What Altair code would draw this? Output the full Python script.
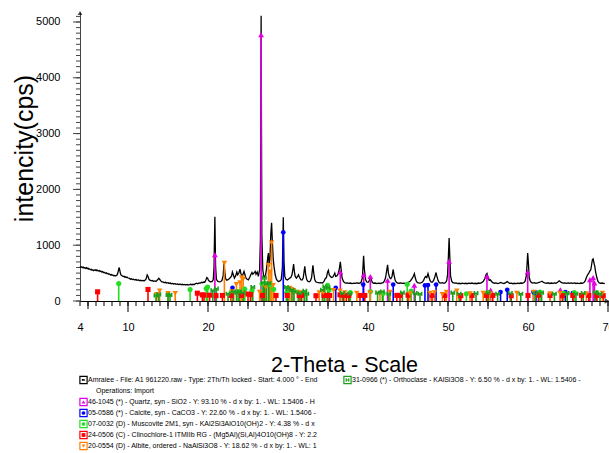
import altair as alt
import pandas as pd

# ---------------- data ----------------
x_ticks = list(range(4, 71))
x_labels = [4, 10, 20, 30, 40, 50, 60, 70]
y_ticks = list(range(0, 5101, 100))
y_labels = [0, 1000, 2000, 3000, 4000, 5000]

scan = [(4.0,620),(4.1,605),(4.2,612),(4.3,598),(4.4,606),(4.5,590),(4.6,600),(4.7,585),(4.8,596),(4.9,580),
(5.0,588),(5.1,570),(5.2,575),(5.3,560),(5.4,568),(5.5,552),(5.6,560),(5.7,545),(5.8,556),(5.9,548),(6.0,560),
(6.1,545),(6.2,552),(6.3,538),(6.4,546),(6.5,530),(6.6,536),(6.7,520),(6.8,526),(6.9,510),(7.0,515),(7.2,498),
(7.3,505),(7.4,488),(7.5,494),(7.6,478),(7.7,484),(7.8,468),(7.9,474),(8.0,460),(8.1,466),(8.2,452),(8.3,458),
(8.4,448),(8.5,455),(8.6,462),(8.7,490),(8.8,545),(8.88,600),(8.96,560),(9.05,495),(9.15,462),(9.3,448),
(9.4,438),(9.5,444),(9.6,428),(9.7,434),(9.8,420),(9.9,426),(10.0,412),(10.2,405),(10.3,392),(10.4,398),
(10.6,385),(10.7,390),(10.8,378),(11.0,384),(11.1,372),(11.3,378),(11.4,366),(11.6,372),(11.7,362),(11.9,368),
(12.0,360),(12.1,372),(12.2,380),(12.3,410),(12.4,468),(12.5,445),(12.6,395),(12.7,378),(12.8,368),(13.0,360),
(13.1,366),(13.2,352),(13.4,360),(13.5,350),(13.6,365),(13.7,380),(13.85,408),(13.95,390),(14.1,362),(14.2,345),
(14.4,338),(14.5,330),(14.7,336),(14.8,322),(15.0,328),(15.1,316),(15.3,322),(15.4,310),(15.6,316),(15.7,305),
(15.9,312),(16.0,300),(16.2,307),(16.3,296),(16.5,303),(16.6,294),(16.8,300),(16.9,290),(17.1,298),(17.2,288),
(17.4,296),(17.5,286),(17.7,294),(17.8,300),(18.0,292),(18.1,300),(18.3,295),(18.4,308),(18.6,318),(18.7,310),
(18.9,325),(19.0,318),(19.2,335),(19.3,328),(19.5,340),(19.6,336),(19.75,380),(19.85,420),(19.95,410),(20.05,372),
(20.2,352),(20.35,345),(20.5,348),(20.65,380),(20.75,600),(20.86,1510),(20.95,620),(21.05,390),(21.2,355),
(21.3,348),(21.5,342),(21.6,350),(21.75,370),(21.9,460),(22.0,690),(22.1,520),(22.2,400),(22.35,372),(22.5,382),
(22.65,400),(22.8,420),(22.95,450),(23.05,520),(23.15,480),(23.3,410),(23.45,450),(23.6,520),(23.7,470),
(23.85,500),(24.0,570),(24.1,500),(24.25,430),(24.35,470),(24.5,530),(24.6,480),(24.75,410),(24.9,390),
(25.05,380),(25.2,420),(25.35,470),(25.5,510),(25.6,480),(25.75,500),(25.9,530),(26.0,480),(26.15,520),
(26.3,440),(26.45,560),(26.55,1100),(26.64,5110),(26.73,1200),(26.85,560),(26.95,450),(27.05,430),(27.2,470),
(27.3,560),(27.45,760),(27.55,860),(27.65,620),(27.75,780),(27.85,1200),(27.95,1400),(28.05,1050),(28.15,760),
(28.25,620),(28.4,470),(28.55,390),(28.7,360),(28.85,350),(29.0,360),(29.15,380),(29.3,600),(29.41,1500),
(29.5,700),(29.6,440),(29.75,390),(29.9,375),(30.05,390),(30.2,410),(30.35,420),(30.5,470),(30.6,560),
(30.7,660),(30.8,520),(30.9,440),(31.05,410),(31.2,440),(31.3,470),(31.45,420),(31.6,380),(31.75,375),
(31.9,410),(32.0,520),(32.1,620),(32.2,480),(32.35,380),(32.5,350),(32.65,345),(32.8,360),(32.95,420),
(33.05,560),(33.12,640),(33.2,520),(33.35,380),(33.5,340),(33.7,332),(33.9,325),(34.1,330),(34.3,322),
(34.5,350),(34.65,400),(34.8,420),(34.95,520),(35.05,550),(35.15,470),(35.3,440),(35.45,420),(35.6,430),
(35.75,470),(35.85,500),(35.95,440),(36.1,450),(36.25,480),(36.4,560),(36.54,700),(36.65,560),(36.75,420),
(36.9,360),(37.05,330),(37.2,320),(37.4,326),(37.6,315),(37.8,322),(38.0,312),(38.2,320),(38.4,315),
(38.6,325),(38.8,318),(39.0,322),(39.15,340),(39.3,420),(39.45,810),(39.55,560),(39.7,380),(39.85,340),
(40.0,335),(40.15,360),(40.3,445),(40.4,380),(40.55,330),(40.7,318),(40.9,322),(41.1,312),(41.3,320),
(41.5,314),(41.7,322),(41.9,330),(42.05,360),(42.2,420),(42.35,560),(42.45,650),(42.55,500),(42.7,420),
(42.85,400),(43.0,440),(43.15,565),(43.25,470),(43.4,370),(43.55,335),(43.7,322),(43.9,318),(44.1,325),
(44.3,315),(44.5,320),(44.7,312),(44.9,326),(45.1,340),(45.3,360),(45.5,400),(45.65,440),(45.8,490),
(45.9,420),(46.05,350),(46.2,330),(46.4,320),(46.6,326),(46.8,340),(46.95,370),(47.1,420),(47.2,440),
(47.35,420),(47.5,490),(47.6,440),(47.75,370),(47.9,340),(48.05,338),(48.2,370),(48.35,430),(48.5,510),
(48.6,450),(48.75,370),(48.9,330),(49.1,322),(49.3,328),(49.5,318),(49.7,330),(49.85,370),(49.95,480),
(50.05,800),(50.14,1130),(50.22,820),(50.32,450),(50.45,360),(50.6,330),(50.8,320),(51.0,326),(51.2,312),
(51.4,318),(51.6,310),(51.8,320),(52.0,312),(52.2,318),(52.4,310),(52.6,320),(52.8,314),(53.0,322),
(53.2,312),(53.4,318),(53.6,310),(53.8,322),(54.0,316),(54.2,330),(54.4,350),(54.6,400),(54.75,470),
(54.87,495),(55.0,430),(55.15,370),(55.3,380),(55.45,350),(55.6,330),(55.8,318),(56.0,324),(56.2,312),
(56.4,320),(56.6,332),(56.8,318),(57.0,312),(57.2,330),(57.4,350),(57.55,330),(57.7,316),(57.9,320),
(58.1,310),(58.3,318),(58.5,312),(58.7,320),(58.9,314),(59.1,322),(59.3,318),(59.5,330),(59.65,360),
(59.8,460),(59.9,700),(59.96,860),(60.05,680),(60.15,420),(60.3,350),(60.45,330),(60.6,320),(60.8,328),
(61.0,318),(61.2,324),(61.4,335),(61.6,345),(61.75,355),(61.9,335),(62.1,324),(62.3,318),(62.5,326),
(62.7,314),(62.9,322),(63.1,316),(63.3,324),(63.5,318),(63.7,335),(63.9,362),(64.05,345),(64.2,328),
(64.4,320),(64.6,326),(64.8,316),(65.0,324),(65.2,318),(65.4,326),(65.6,316),(65.8,324),(66.0,314),
(66.2,320),(66.4,312),(66.6,322),(66.8,318),(67.0,330),(67.15,360),(67.3,420),(67.45,470),(67.6,500),
(67.74,540),(67.85,560),(67.95,650),(68.05,740),(68.14,755),(68.25,680),(68.35,620),(68.45,520),(68.6,420),
(68.75,350),(68.9,325),(69.1,318),(69.3,322),(69.5,312),(69.6,318)]

quartz = [(20.86,830),(26.64,4770),(36.54,520),(39.47,470),(40.29,440),(42.45,372),(45.79,283),(50.14,714),
          (54.87,442),(55.33,195),(59.96,519),(64.04,200),(67.74,383),(68.14,419),(68.31,324)]
calcite = [(23.06,236),(29.41,1230),(31.44,120),(35.97,236),(39.40,295),(43.15,295),(47.12,280),(47.50,285),
           (48.51,295),(56.57,160),(57.40,200),(60.68,160),(61.00,150),(64.67,160),(65.60,140)]
muscovite = [(8.84,313),(17.76,207),(19.78,224),(19.95,250),(22.9,155),(23.8,170),(24.6,215),(25.5,185),
             (26.75,310),(27.3,285),(27.8,295),(28.2,210),(29.85,150),(31.25,160),(32.0,150),(34.95,280),
             (35.15,200),(37.8,150),(40.3,170),(41.9,140),(44.9,300),(45.4,180),(52.3,130),(55.0,150),
             (61.5,160),(64.5,140),(65.8,150),(68.6,150)]
clinochlore = [(6.2,165),(12.5,207),(18.67,140),(19.3,110),(19.5,105),(20.2,105),(21.0,96),(21.8,100),
               (22.9,100),(24.2,100),(25.0,125),(25.3,115),(26.8,100),(28.5,100),(29.9,100),(31.4,100),
               (31.7,100),(33.5,95),(34.5,100),(34.9,100),(35.2,100),(36.5,110),(36.9,105),(37.3,100),
               (37.6,100),(39.0,100),(39.6,100),(43.6,100),(44.0,100),(45.0,105),(48.0,100),(49.6,100),
               (51.6,95),(53.0,100),(54.8,100),(55.6,100),(57.9,95),(60.0,100),(61.3,105),(62.75,100),
               (64.3,95),(65.6,100),(66.7,100),(67.6,100),(68.6,100),(69.4,95)]
albite = [(13.6,120),(13.95,183),(15.0,136),(15.9,136),(22.05,678),(23.0,170),(23.55,300),(24.0,330),
          (24.2,420),(24.4,390),(26.45,160),(27.2,250),(27.55,640),(27.75,520),(27.95,1040),(28.15,280),
          (30.2,230),(30.4,210),(30.7,190),(31.5,150),(33.9,150),(34.4,150),(35.7,190),(36.5,180),
          (37.1,150),(38.6,140),(40.25,150),(41.5,140),(42.75,160),(45.25,130),(47.75,140),(48.3,150),
          (49.3,120),(49.8,160),(51.1,180),(52.75,130),(54.4,140),(55.25,130),(58.6,140),(60.7,160),
          (62.75,130),(64.0,140),(67.3,130),(69.3,140)]
orthoclase = [(13.5,100),(13.85,120),(15.0,110),(15.25,110),(20.6,190),(21.05,220),(22.5,130),(23.2,170),
              (23.6,150),(23.9,170),(24.4,150),(25.6,250),(26.9,330),(27.05,420),(27.3,310),(27.6,320),
              (29.8,250),(30.0,220),(30.5,200),(30.75,170),(31.5,140),(32.1,180),(32.35,130),(34.3,200),
              (34.6,260),(35.0,240),(36.8,140),(37.7,130),(41.2,150),(41.8,170),(42.6,130),(44.3,150),
              (45.9,140),(46.5,130),(50.6,150),(51.4,130),(53.5,140),(55.0,150),(56.2,130),(57.8,140),
              (59.1,130),(60.9,140),(61.7,150),(63.3,130),(64.9,140),(66.0,130),(66.9,140),(68.4,150),(69.0,130)]

legend_left = [
    "Amraiee - File: A1 961220.raw - Type: 2Th/Th locked - Start: 4.000 ° - End",
    "Operations: Import",
    "46-1045 (*) - Quartz, syn - SiO2 - Y: 93.10 % - d x by: 1. - WL: 1.5406 - H",
    "05-0586 (*) - Calcite, syn - CaCO3 - Y: 22.60 % - d x by: 1. - WL: 1.5406 -",
    "07-0032 (D) - Muscovite 2M1, syn - KAl2Si3AlO10(OH)2 - Y: 4.38 % - d x",
    "24-0506 (C) - Clinochlore-1 ITMIIb RG - (Mg5Al)(Si,Al)4O10(OH)8 - Y: 2.2",
    "20-0554 (D) - Albite, ordered - NaAlSi3O8 - Y: 18.62 % - d x by: 1. - WL: 1",
]
legend_right = "31-0966 (*) - Orthoclase - KAlSi3O8 - Y: 6.50 % - d x by: 1. - WL: 1.5406 -"

# ---------------- style ----------------
FONT = "Liberation Sans"
W, H = 528, 289
YMAX = 5179
H_PATH = "M-0.7,-0.9L-0.7,0.9M0.7,-0.9L0.7,0.9M-0.7,0L0.7,0"
phases = [
    ("Quartz", quartz, "#E000E0", "triangle-up", True, 34),
    ("Calcite", calcite, "#0000FF", "circle", True, 22),
    ("Muscovite", muscovite, "#22DD22", "circle", True, 26),
    ("Clinochlore", clinochlore, "#FF0000", "square", True, 26),
    ("Albite", albite, "#FF8000", "triangle-down", True, 30),
    ("Orthoclase", orthoclase, "#1E9E1E", H_PATH, False, 22),
]

xs = alt.Scale(domain=[4, 70], nice=False, zero=False)
ys = alt.Scale(domain=[0, YMAX], nice=False)

x_axis = alt.Axis(
    values=x_labels, format="d", ticks=False, tickSize=0, labelOverlap=False,
    labelFlush=False, labelBound=False,
    labelPadding=26, labelFontSize=11, labelFont=FONT, labelColor="black",
    labelBaseline="middle",
    domainColor="black", grid=False,
    title="2-Theta - Scale", titleFont=FONT, titleFontSize=21.5, titleFontWeight="normal",
    titleColor="black", titleX=264, titleY=64, titleAlign="center", titleBaseline="middle",
)
y_axis = alt.Axis(
    values=y_labels, format="d", ticks=False, tickSize=0, labelOverlap=False,
    labelFlush=False,
    labelPadding=20, labelFontSize=11, labelFont=FONT, labelColor="black",
    domainColor="#444444", grid=False,
    title="intencity(cps)", titleFont=FONT, titleFontSize=25, titleFontWeight="normal",
    titleColor="black", titleX=-56, titleY=136, titleAngle=270,
    titleAlign="center", titleBaseline="middle",
)

df_scan = pd.DataFrame(scan, columns=["tt", "cps"])
layers = []

# tick marks (data-driven through the scales)
dxt = pd.DataFrame({"tt": x_ticks})
dxt5 = pd.DataFrame({"tt": [v for v in x_ticks if v % 5 == 0 and v % 10 != 0]})
dxt10 = pd.DataFrame({"tt": [v for v in x_ticks if v % 10 == 0]})
for d, ln in [(dxt, 5), (dxt5, 8), (dxt10, 11)]:
    layers.append(alt.Chart(d).mark_rule(color="black", strokeWidth=1).encode(
        x=alt.X("tt:Q", scale=xs), y=alt.value(H), y2=alt.value(H + ln)))
dyt = pd.DataFrame({"v": y_ticks})
dyt1000 = pd.DataFrame({"v": y_labels})
for d, ln in [(dyt, 4), (dyt1000, 7)]:
    layers.append(alt.Chart(d).mark_rule(color="#444444", strokeWidth=1).encode(
        y=alt.Y("v:Q", scale=ys), x=alt.value(-ln), x2=alt.value(0)))

layers.append(alt.Chart(df_scan).mark_line(color="black", strokeWidth=1.3).encode(
    x=alt.X("tt:Q", scale=xs, axis=x_axis),
    y=alt.Y("cps:Q", scale=ys, axis=y_axis)))

for name, vals, color, shape, filled, size in phases:
    d = pd.DataFrame(vals, columns=["tt", "cps"])
    layers.append(alt.Chart(d).mark_rule(color=color, strokeWidth=1.6).encode(
        x=alt.X("tt:Q", scale=xs), y=alt.Y("cps:Q", scale=ys), y2=alt.datum(0)))
for name, vals, color, shape, filled, size in phases:
    d = pd.DataFrame(vals, columns=["tt", "cps"])
    if filled:
        mk = alt.Chart(d).mark_point(shape=shape, filled=True, color=color, size=size, opacity=1)
    else:
        mk = alt.Chart(d).mark_point(shape=shape, filled=False, color=color, size=size,
                                     strokeWidth=1.6, opacity=1)
    layers.append(mk.encode(x=alt.X("tt:Q", scale=xs), y=alt.Y("cps:Q", scale=ys)))

one = pd.DataFrame({"k": [0]})
# axis arrows
layers.append(alt.Chart(one).mark_point(shape="triangle-up", filled=True, color="black", size=22).encode(
    x=alt.value(0), y=alt.value(1)))
layers.append(alt.Chart(one).mark_point(shape="triangle-right", filled=True, color="black", size=30).encode(
    x=alt.value(W - 1), y=alt.value(H)))

# legend block
LINE0 = 368
STEP = 11
icon_specs = [("black", "M-0.6,0.5L-0.6,-0.5L-0.2,0.3L0.2,-0.5L0.6,0.3L0.6,0.5", False),
              None,
              ("#E000E0", "triangle-up", True),
              ("#0000FF", "circle", True),
              ("#22DD22", "circle", True),
              ("#FF0000", "square", True),
              ("#FF8000", "triangle-down", True)]
for i, txt in enumerate(legend_left):
    yy = LINE0 + STEP * i
    tx = 16 if icon_specs[i] is None else 8
    layers.append(alt.Chart(one).mark_text(text=txt, font=FONT, fontSize=7, align="left",
                                           baseline="middle", color="black").encode(
        x=alt.value(tx), y=alt.value(yy)))
    if icon_specs[i] is not None:
        c, shp, fil = icon_specs[i]
        layers.append(alt.Chart(one).mark_point(shape="square", filled=False, color=c, size=52,
                                                strokeWidth=1.2, opacity=1).encode(
            x=alt.value(3.5), y=alt.value(yy)))
        layers.append(alt.Chart(one).mark_point(shape=shp, filled=fil, color=c, size=14,
                                                strokeWidth=1, opacity=1).encode(
            x=alt.value(3.5), y=alt.value(yy)))
layers.append(alt.Chart(one).mark_text(text=legend_right, font=FONT, fontSize=7, align="left",
                                       baseline="middle", color="black").encode(
    x=alt.value(272), y=alt.value(LINE0)))
layers.append(alt.Chart(one).mark_point(shape="square", filled=False, color="#1E9E1E", size=52,
                                        strokeWidth=1.2, opacity=1).encode(
    x=alt.value(267.5), y=alt.value(LINE0)))
layers.append(alt.Chart(one).mark_point(shape=H_PATH, filled=False, color="#1E9E1E", size=14,
                                        strokeWidth=1.2, opacity=1).encode(
    x=alt.value(267.5), y=alt.value(LINE0)))

chart = alt.layer(*layers).properties(
    width=W, height=H, autosize="none",
    padding={"left": 80, "top": 12, "right": 1, "bottom": 152},
    background="white",
).configure_view(stroke=None)

chart.save("out.html", embed_options={"renderer": "svg", "actions": False})
